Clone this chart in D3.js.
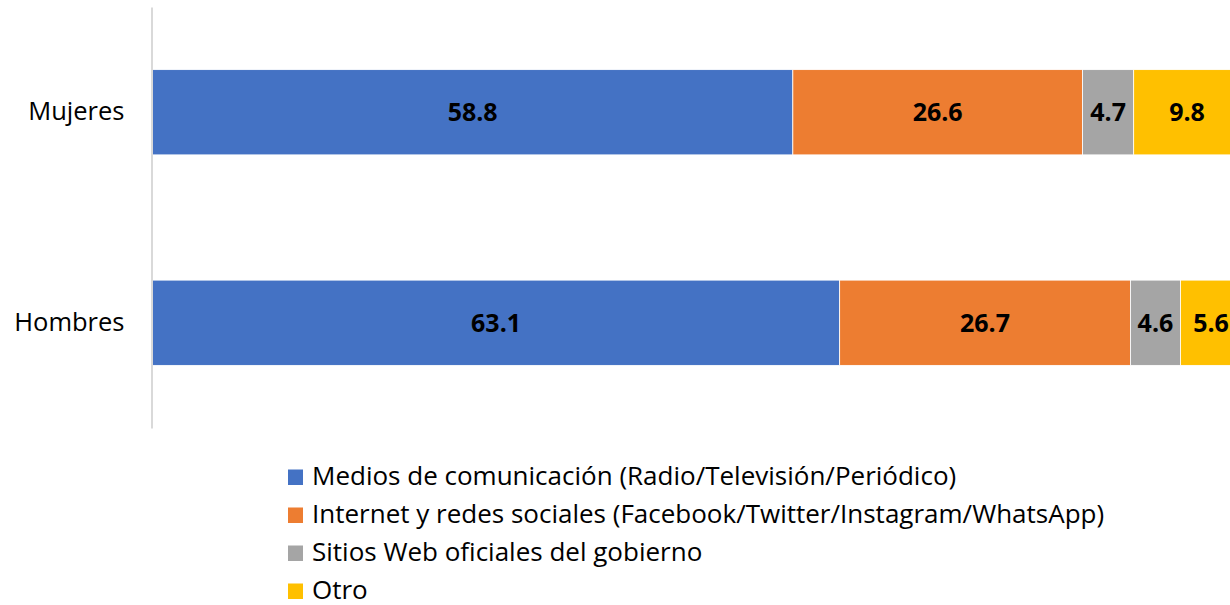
<!DOCTYPE html>
<html><head><meta charset="utf-8">
<script src="https://cdn.jsdelivr.net/npm/d3@7"></script>
<style>body{margin:0;background:#fff;overflow:hidden}</style>
</head><body>
<svg id="c" width="1230" height="605"></svg>
<script>
const categories = ["Mujeres", "Hombres"];
const seriesNames = [
  "Medios de comunicación (Radio/Televisión/Periódico)",
  "Internet y redes sociales (Facebook/Twitter/Instagram/WhatsApp)",
  "Sitios Web oficiales del gobierno",
  "Otro"
];
const medios = [58.8, 63.1];
const internet = [26.6, 26.7];
const sitios = [4.7, 4.6];
const otro = [9.8, 5.6];
const colors = ["#4472C4", "#ED7D31", "#A5A5A5", "#FFC000"];

const series = [medios, internet, sitios, otro];
const rows = categories.map((c, i) => {
  const o = {cat: c};
  seriesNames.forEach((s, k) => o[s] = series[k][i]);
  return o;
});
const stacked = d3.stack().keys(seriesNames)(rows);

const FONT = "'Open Sans', sans-serif";
const svg = d3.select("#c");
const x = d3.scaleLinear().domain([0, 100]).range([152.5, 1241.5]);
const y = d3.scaleBand().domain(categories).range([7, 428]).paddingInner(0.595).paddingOuter(0.2975);

// bars
const g = svg.append("g");
stacked.forEach((layer, k) => {
  g.selectAll(null).data(layer).enter().append("rect")
    .attr("x", d => x(d[0]))
    .attr("y", d => y(d.data.cat))
    .attr("width", d => x(d[1]) - x(d[0]))
    .attr("height", y.bandwidth())
    .attr("fill", colors[k])
    .attr("stroke", "#fff").attr("stroke-width", 0.8);
  g.selectAll(null).data(layer).enter().append("text")
    .attr("x", d => (x(d[0]) + x(d[1])) / 2)
    .attr("y", d => y(d.data.cat) + y.bandwidth() / 2)
    .attr("dy", "0.36em")
    .attr("text-anchor", "middle")
    .attr("font-family", FONT)
    .attr("font-weight", "bold")
    .attr("font-size", 25)
    .attr("fill", "#000")
    .text(d => d3.format(".1f")(d[1] - d[0]));
});

// y axis
const yAxis = d3.axisLeft(y).tickSize(0).tickPadding(27);
const ag = svg.append("g").attr("transform", `translate(${x(0) - 1},0)`).call(yAxis);
ag.select(".domain").attr("stroke", "#d9d9d9").attr("stroke-width", 2);
ag.selectAll(".tick text")
  .attr("font-family", FONT)
  .attr("font-size", 25.5)
  .attr("fill", "#000");

// legend
const lg = svg.append("g").attr("transform", "translate(288,0)");
const ly = d3.scalePoint().domain(seriesNames).range([485, 599]);
seriesNames.forEach((s, k) => {
  lg.append("rect").attr("x", 0).attr("y", ly(s) - 15.5).attr("width", 15).attr("height", 15.5).attr("fill", colors[k]);
  lg.append("text").attr("x", 24).attr("y", ly(s))
    .attr("font-family", FONT).attr("font-size", 26).attr("fill", "#000")
    .text(s);
});
</script>
</body></html>
